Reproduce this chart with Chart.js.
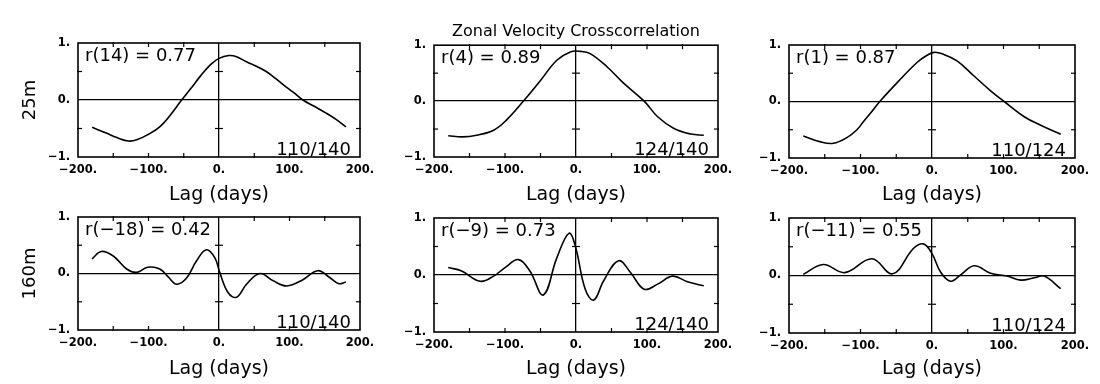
<!DOCTYPE html>
<html>
<head>
<meta charset="utf-8">
<script src="https://cdn.jsdelivr.net/npm/chart.js@4.4.1/dist/chart.umd.min.js"></script>
<style>
  body { margin: 0; background: #fff; }
  #wrap { position: relative; width: 1100px; height: 384px; overflow: hidden; }
  #wrap canvas { position: absolute; }
</style>
</head>
<body>
<div id="wrap">
  <canvas id="c1" width="380" height="207" style="left:0px;top:0px"></canvas>
  <canvas id="c2" width="360" height="207" style="left:380px;top:0px"></canvas>
  <canvas id="c3" width="360" height="207" style="left:740px;top:0px"></canvas>
  <canvas id="c4" width="380" height="177" style="left:0px;top:207px"></canvas>
  <canvas id="c5" width="360" height="177" style="left:380px;top:207px"></canvas>
  <canvas id="c6" width="360" height="177" style="left:740px;top:207px"></canvas>
</div>
<script>
// tick labels
const xTickLabels = ['−200.', '−100.', '0.', '100.', '200.'];
const yTickLabels = ['−1.', '0.', '1.'];
const xMinorTicks = [-150, -100, -50, 50, 100, 150];
const yMinorTicks = [-0.5, 0.5];

const title = 'Zonal Velocity Crosscorrelation';
const depths = ['25m', '160m'];
const pairs = ['110/140', '124/140', '110/124'];
const maxCorr = ['r(14) = 0.77', 'r(4) = 0.89', 'r(1) = 0.87',
                 'r(−18) = 0.42', 'r(−9) = 0.73', 'r(−11) = 0.55'];

// 25m, 110/140
const lag1 = [-180, -160, -145, -128, -115, -100, -84, -70, -53, -40, -27, -12, 0, 14, 25, 39, 55, 67, 81, 95, 108, 119, 135, 152, 166, 180];
const r1 = [-0.48, -0.58, -0.66, -0.72, -0.69, -0.60, -0.47, -0.28, 0.00, 0.20, 0.41, 0.62, 0.73, 0.78, 0.76, 0.67, 0.58, 0.50, 0.37, 0.23, 0.11, 0.00, -0.11, -0.23, -0.34, -0.47];
// 25m, 124/140
const lag2 = [-180, -160, -140, -116, -98, -74, -50, -27, -8, 6, 20, 44, 67, 96, 115, 138, 162, 180];
const r2 = [-0.62, -0.64, -0.61, -0.52, -0.34, 0.00, 0.37, 0.73, 0.88, 0.89, 0.85, 0.61, 0.32, 0.00, -0.28, -0.49, -0.59, -0.61];
// 25m, 110/124
const lag3 = [-180, -157, -138, -119, -105, -96, -85, -73, -49, -21, -8, 3, 15, 35, 58, 82, 101, 129, 152, 180];
const r3 = [-0.61, -0.71, -0.74, -0.64, -0.50, -0.36, -0.19, 0.00, 0.33, 0.69, 0.81, 0.87, 0.84, 0.72, 0.46, 0.19, 0.00, -0.27, -0.42, -0.58];
// 160m, 110/140
const lag4 = [-180, -167, -150, -131, -117, -101, -84, -72, -60, -46, -32, -18, -6, 1, 13, 25, 39, 58, 77, 96, 119, 140, 157, 170, 180];
const r4 = [0.26, 0.39, 0.31, 0.08, 0.02, 0.11, 0.08, -0.06, -0.19, -0.08, 0.22, 0.42, 0.28, 0.02, -0.34, -0.42, -0.19, 0.00, -0.13, -0.22, -0.11, 0.05, -0.07, -0.18, -0.15];
// 160m, 124/140
const lag5 = [-180, -161, -135, -116, -100, -81, -65, -46, -27, -10, -1, 13, 25, 39, 60, 77, 96, 115, 136, 157, 180];
const r5 = [0.13, 0.07, -0.11, -0.02, 0.13, 0.27, 0.07, -0.35, 0.30, 0.73, 0.51, -0.25, -0.44, -0.10, 0.25, 0.04, -0.25, -0.16, -0.02, -0.12, -0.19];
// 160m, 110/124
const lag6 = [-180, -152, -122, -84, -55, -26, -12, 0, 12, 26, 40, 59, 82, 105, 124, 143, 157, 180];
const r6 = [0.02, 0.19, 0.05, 0.29, 0.03, 0.47, 0.55, 0.38, 0.06, -0.10, 0.01, 0.17, 0.04, -0.01, -0.08, -0.04, -0.01, -0.23];

const FONT = '"DejaVu Sans", sans-serif';

// box, inward ticks and the two texts inside each panel
const frame = {
  id: 'frame',
  afterDatasetsDraw(chart, args, opts) {
    const { ctx, chartArea: a, scales: { x, y } } = chart;
    const seg = (x1, y1, x2, y2) => { ctx.beginPath(); ctx.moveTo(x1, y1); ctx.lineTo(x2, y2); ctx.stroke(); };
    ctx.save();
    ctx.strokeStyle = '#000';
    ctx.lineWidth = 1.6;
    ctx.strokeRect(a.left, a.top, a.width, a.height);
    ctx.lineWidth = 1.2;
    xMinorTicks.forEach(v => {
      const px = x.getPixelForValue(v);
      seg(px, a.top - 1, px, a.top + 4);
      seg(px, a.bottom + 1, px, a.bottom - 4);
    });
    yMinorTicks.forEach(v => {
      const py = y.getPixelForValue(v);
      const p0 = x.getPixelForValue(0);
      seg(a.left - 1, py, a.left + 4, py);
      seg(a.right + 1, py, a.right - 4, py);
      seg(p0 - 4, py, p0 + 4, py);
    });
    ctx.fillStyle = '#000';
    ctx.font = '18px ' + FONT;
    ctx.textBaseline = 'alphabetic';
    ctx.textAlign = 'left';
    ctx.fillText(opts.note, a.left + 7, a.top + 18);
    ctx.textAlign = 'right';
    ctx.fillText(opts.pair, a.right - 9, a.bottom - 2);
    ctx.restore();
  }
};

function zeroLine(c) {
  return c.tick && c.tick.value === 0 ? '#000' : 'rgba(0,0,0,0)';
}

function makePanel(id, lags, vals, o) {
  const points = lags.map((l, i) => ({ x: l, y: vals[i] }));
  new Chart(document.getElementById(id), {
    type: 'line',
    data: {
      datasets: [{
        data: points,
        borderColor: '#000',
        borderWidth: 1.6,
        pointRadius: 0,
        tension: 0.4,
        fill: false
      }]
    },
    options: {
      responsive: false,
      animation: false,
      events: [],
      layout: { padding: { top: o.padTop, right: o.padRight, left: 0, bottom: 0 } },
      plugins: {
        legend: { display: false },
        tooltip: { enabled: false },
        title: {
          display: !!o.title,
          text: o.title || '',
          fullSize: false,
          color: '#000',
          font: { family: FONT, size: 16, weight: 'normal' },
          padding: { top: 10, bottom: 4 }
        },
        frame: { note: o.note, pair: o.pair }
      },
      scales: {
        x: {
          type: 'linear',
          min: -200, max: 200,
          border: { display: false },
          grid: { drawTicks: false, color: zeroLine, lineWidth: 1.3 },
          ticks: {
            stepSize: 100, autoSkip: false, maxRotation: 0, padding: 6,
            color: '#000',
            font: { family: FONT, size: 11.5, weight: 'bold' },
            callback: (v, i) => xTickLabels[i]
          },
          title: {
            display: true, text: 'Lag (days)', color: '#000',
            font: { family: FONT, size: 19 },
            padding: { top: 0, bottom: o.titlePad }
          },
          afterFit: s => { s.height = o.xH; s.paddingLeft = 0; s.paddingRight = 0; }
        },
        y: {
          min: -1, max: 1,
          border: { display: false },
          grid: { drawTicks: false, color: zeroLine, lineWidth: 1.3 },
          ticks: {
            stepSize: 1, padding: 8,
            color: '#000',
            font: { family: FONT, size: 11.5, weight: 'bold' },
            callback: (v, i) => yTickLabels[i]
          },
          title: {
            display: !!o.depth, text: o.depth || '', color: '#000',
            font: { family: FONT, size: 18 },
            padding: { top: 20, bottom: 0 }
          },
          afterFit: s => { s.width = o.yW; s.paddingTop = 0; s.paddingBottom = 0; }
        }
      }
    },
    plugins: [frame]
  });
}

makePanel('c1', lag1, r1, { yW: 78, xH: 50, padTop: 43, padRight: 20, titlePad: 1, depth: depths[0], note: maxCorr[0], pair: pairs[0] });
makePanel('c2', lag2, r2, { yW: 54, xH: 50, padTop: 12, padRight: 22, titlePad: 1, title: title, note: maxCorr[1], pair: pairs[1] });
makePanel('c3', lag3, r3, { yW: 49, xH: 49, padTop: 45, padRight: 25, titlePad: 1, note: maxCorr[2], pair: pairs[2] });
makePanel('c4', lag4, r4, { yW: 78, xH: 54, padTop: 10, padRight: 20, titlePad: 4, depth: depths[1], note: maxCorr[3], pair: pairs[0] });
makePanel('c5', lag5, r5, { yW: 54, xH: 52, padTop: 11, padRight: 22, titlePad: 4, note: maxCorr[4], pair: pairs[1] });
makePanel('c6', lag6, r6, { yW: 49, xH: 51, padTop: 11, padRight: 25, titlePad: 4, note: maxCorr[5], pair: pairs[2] });
</script>
</body>
</html>
